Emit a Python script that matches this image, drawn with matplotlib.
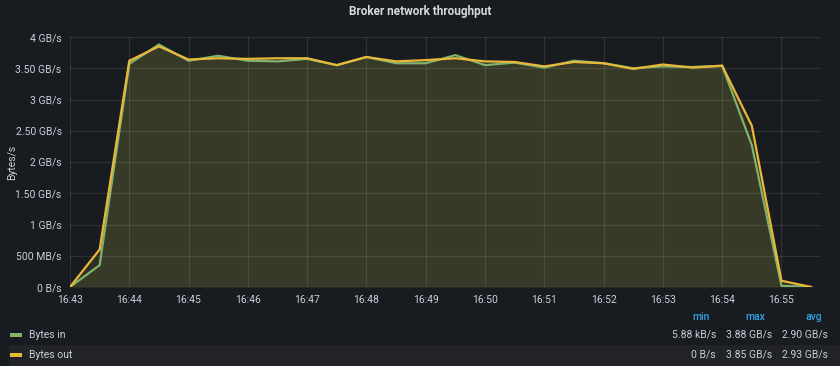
import matplotlib
matplotlib.use("Agg")
import matplotlib.pyplot as plt
import matplotlib.dates as mdates
from matplotlib.patches import Rectangle
import pandas as pd

plt.rcParams["font.family"] = ["Roboto", "DejaVu Sans"]

title = "Broker network throughput"
times = pd.date_range("2024-01-01 16:43:00", periods=26, freq="30s")
bytes_in = [0.00000588, 0.35, 3.57, 3.88, 3.62, 3.70, 3.62, 3.61, 3.65, 3.55,
            3.68, 3.58, 3.58, 3.71, 3.55, 3.59, 3.51, 3.62, 3.58, 3.50,
            3.53, 3.52, 3.54, 2.27, 0.02, 0.0]
bytes_out = [0.0, 0.60, 3.62, 3.85, 3.64, 3.66, 3.65, 3.66, 3.66, 3.55,
             3.68, 3.61, 3.63, 3.66, 3.61, 3.60, 3.53, 3.60, 3.58, 3.49,
             3.56, 3.51, 3.54, 2.58, 0.10, 0.0]
series_names = ["Bytes in", "Bytes out"]
series_colors = ["#7EB26D", "#EAB839"]
ytick_vals = [0, 0.5, 1, 1.5, 2, 2.5, 3, 3.5, 4]
ytick_labels = ["0 B/s", "500 MB/s", "1 GB/s", "1.50 GB/s", "2 GB/s",
                "2.50 GB/s", "3 GB/s", "3.50 GB/s", "4 GB/s"]
stat_headers = ["min", "max", "avg"]
stats = [["5.88 kB/s", "3.88 GB/s", "2.90 GB/s"],
         ["0 B/s", "3.85 GB/s", "2.93 GB/s"]]

BG = "#181b1f"
TXT = "#c7d0d9"
FS = 7.5
W, H = 840, 366
fig = plt.figure(figsize=(W / 100, H / 100), dpi=100, facecolor=BG)
ax = fig.add_axes([70 / W, 1 - 287 / H, 750 / W, 250 / H], facecolor=BG)

for vals, col in zip([bytes_in, bytes_out], series_colors):
    ax.fill_between(times, vals, 0, color=col, alpha=0.11, linewidth=0, zorder=1)
for vals, col in zip([bytes_in, bytes_out], series_colors):
    ax.plot(times, vals, color=col, linewidth=1.6, zorder=3, solid_joinstyle="miter")

ax.set_ylim(0, 4)
x0 = times[0]
ax.set_xlim(x0, x0 + pd.Timedelta(seconds=759))
ax.set_yticks(ytick_vals)
ax.set_yticklabels(ytick_labels)
ax.xaxis.set_major_locator(mdates.MinuteLocator(interval=1))
ax.xaxis.set_major_formatter(mdates.DateFormatter("%H:%M"))
ax.grid(True, color="#ffffff", alpha=0.10, linewidth=0.9)
ax.set_axisbelow(True)
for s in ax.spines.values():
    s.set_visible(False)
ax.tick_params(colors=TXT, labelsize=FS, length=0, pad=6)
for lab in ax.get_xticklabels() + ax.get_yticklabels():
    lab.set_color(TXT)

fig.text(12 / W, 1 - 162 / H, "Bytes/s", rotation=90, ha="center", va="center",
         color=TXT, fontsize=FS)
fig.text(0.5, 1 - 11 / H, title, ha="center", va="center", color="#d8d9da",
         fontsize=8.5, fontweight="bold")

# legend
fig.patches.append(Rectangle((9 / W, 0), 831 / W, 21 / H, transform=fig.transFigure,
                             facecolor="#212327", edgecolor="none", zorder=0))
hx = [710, 765, 822]
vx = [716, 772, 828]
for x, h in zip(hx, stat_headers):
    fig.text(x / W, 1 - 317 / H, h, ha="right", va="center", color="#33a2e5",
             fontsize=FS, fontweight="medium")
rows_y = [335, 355]
for i, (name, col) in enumerate(zip(series_names, series_colors)):
    y = rows_y[i]
    fig.patches.append(Rectangle((10 / W, 1 - (y + 2) / H), 12 / W, 4 / H,
                                 transform=fig.transFigure, facecolor=col,
                                 edgecolor="none", zorder=2))
    fig.text(29 / W, 1 - y / H, name, ha="left", va="center", color=TXT, fontsize=FS)
    for x, v in zip(vx, stats[i]):
        fig.text(x / W, 1 - y / H, v, ha="right", va="center", color=TXT, fontsize=FS)

fig.savefig("out.png", dpi=100, facecolor=BG)
